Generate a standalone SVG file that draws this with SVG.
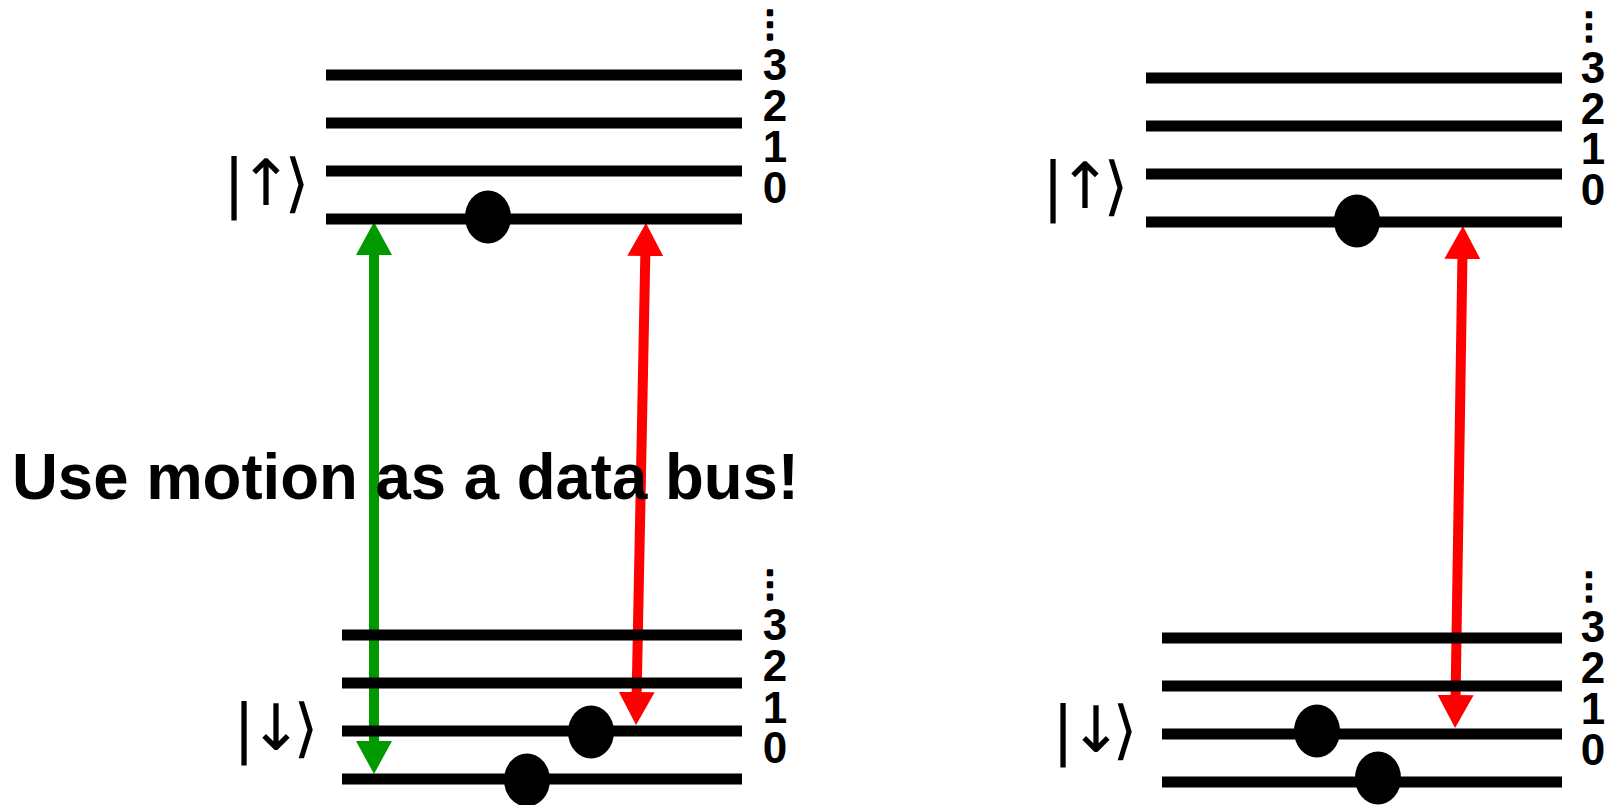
<svg xmlns="http://www.w3.org/2000/svg" width="1617" height="805" viewBox="0 0 1617 805">
<style>
.lvl{stroke:#000;stroke-width:11;fill:none}
.ball{fill:#000}
.num{font-family:"Liberation Sans",Arial,sans-serif;font-weight:bold;font-size:44px;fill:#000;text-anchor:middle}
.dots{font-family:"DejaVu Sans",sans-serif;font-weight:normal;font-size:36px;stroke:#000;stroke-width:2.6;stroke-linejoin:round}
.ket{font-family:"DejaVu Sans",sans-serif;font-size:64px;fill:#000;text-anchor:middle}
.title{font-family:"Liberation Sans",Arial,sans-serif;font-weight:bold;font-size:65px;fill:#000}
.g{stroke:#009900;stroke-width:10;fill:none;marker-start:url(#hg);marker-end:url(#hg)}
.r{stroke:#ff0000;stroke-width:10;fill:none;marker-start:url(#hr);marker-end:url(#hr)}
</style>
<defs>
<marker id="hg" markerUnits="userSpaceOnUse" markerWidth="34" markerHeight="36" viewBox="0 -18 34 36" refX="0" refY="0" orient="auto-start-reverse"><path d="M0,-18 L33,0 L0,18 Z" fill="#009900"/></marker>
<marker id="hr" markerUnits="userSpaceOnUse" markerWidth="34" markerHeight="36" viewBox="0 -18 34 36" refX="0" refY="0" orient="auto-start-reverse"><path d="M0,-18 L33,0 L0,18 Z" fill="#ff0000"/></marker>
</defs>
<rect width="1617" height="805" fill="#fff"/>
<g id="connectors">
<path class="g" d="M374,255 L374,741"/>
<path class="r" d="M645.3,256 L636.7,692"/>
<path class="r" d="M1462.4,259 L1455.6,695"/>
</g>
<g id="left-up">
<path class="lvl" d="M326,75H742M326,123H742M326,171H742M326,219H742"/>
<ellipse class="ball" cx="488" cy="217" rx="23" ry="26.5"/>
<text class="num"><tspan class="dots" x="770" y="36">⋮</tspan><tspan x="775" y="80">3</tspan><tspan x="775" y="121">2</tspan><tspan x="775" y="162">1</tspan><tspan x="775" y="203">0</tspan></text>
<text class="ket" x="234 266 297" y="205">|↑⟩</text>
</g>
<g id="left-down">
<path class="lvl" d="M342,635H742M342,683H742M342,731H742M342,779H742"/>
<ellipse class="ball" cx="591" cy="732" rx="23" ry="26.5"/>
<ellipse class="ball" cx="527" cy="780" rx="23" ry="26.5"/>
<text class="num"><tspan class="dots" x="770" y="596">⋮</tspan><tspan x="775" y="640">3</tspan><tspan x="775" y="681">2</tspan><tspan x="775" y="723">1</tspan><tspan x="775" y="763">0</tspan></text>
<text class="ket" x="244 276 306" y="750">|↓⟩</text>
</g>
<g id="right-up">
<path class="lvl" d="M1146,78H1562M1146,126H1562M1146,174H1562M1146,222H1562"/>
<ellipse class="ball" cx="1357" cy="221" rx="23" ry="26.5"/>
<text class="num"><tspan class="dots" x="1589" y="38">⋮</tspan><tspan x="1593" y="83">3</tspan><tspan x="1593" y="124">2</tspan><tspan x="1593" y="164">1</tspan><tspan x="1593" y="205">0</tspan></text>
<text class="ket" x="1053 1085 1116" y="208">|↑⟩</text>
</g>
<g id="right-down">
<path class="lvl" d="M1162,638H1562M1162,686H1562M1162,734H1562M1162,782H1562"/>
<ellipse class="ball" cx="1317" cy="731" rx="23" ry="26.5"/>
<ellipse class="ball" cx="1378" cy="778" rx="23" ry="26.5"/>
<text class="num"><tspan class="dots" x="1589" y="598">⋮</tspan><tspan x="1593" y="642">3</tspan><tspan x="1593" y="683">2</tspan><tspan x="1593" y="724">1</tspan><tspan x="1593" y="765">0</tspan></text>
<text class="ket" x="1063 1096 1125" y="752">|↓⟩</text>
</g>
<g id="title">
<text class="title" x="12" y="499" textLength="787" lengthAdjust="spacingAndGlyphs">Use motion as a data bus!</text>
</g>
</svg>
